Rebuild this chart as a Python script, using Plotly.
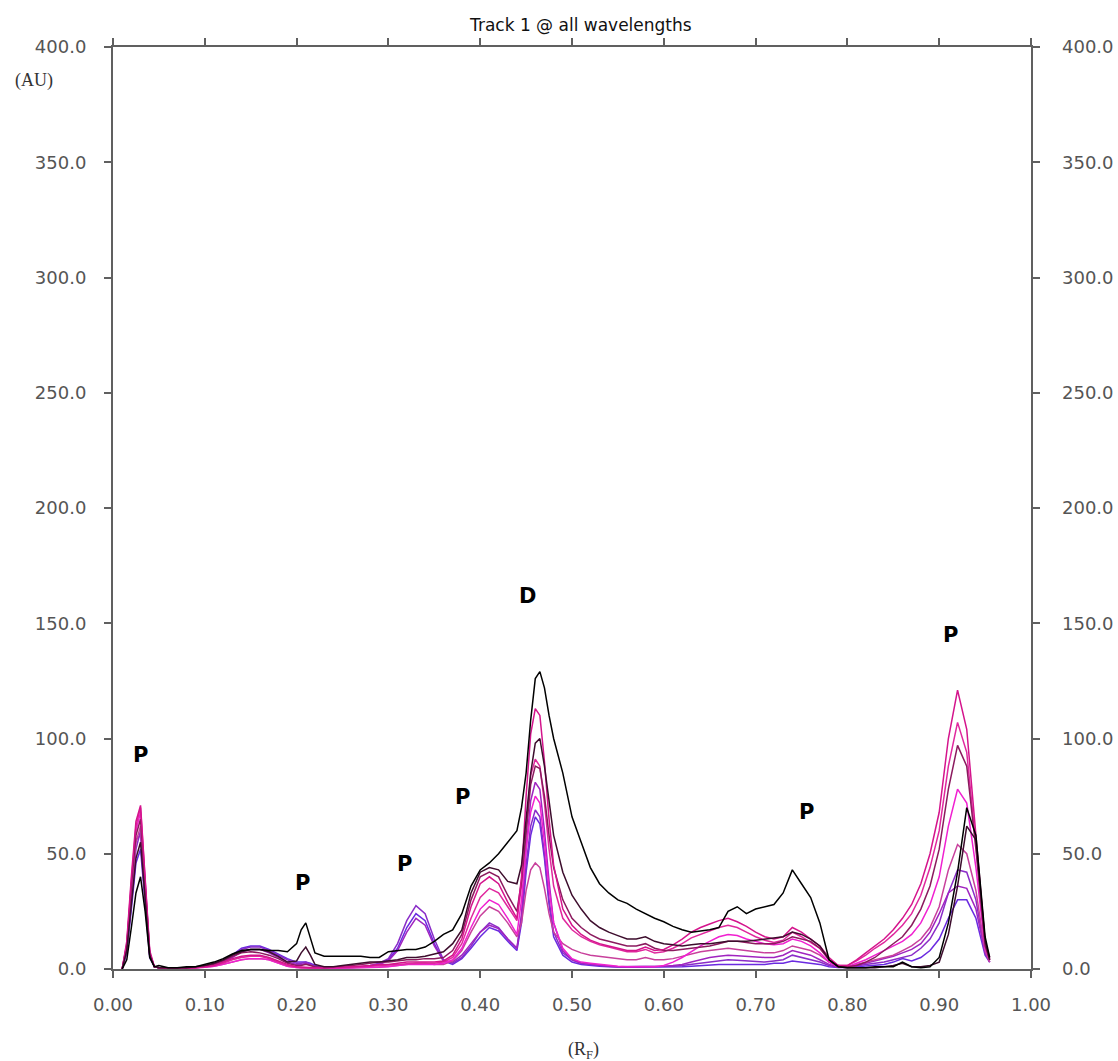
import plotly.graph_objects as go

# ---------------- data ----------------
RF = [0.010, 0.015, 0.020, 0.025, 0.030, 0.035, 0.040, 0.045, 0.050,
      0.06, 0.07, 0.08, 0.09, 0.10, 0.11, 0.12, 0.13, 0.14, 0.15, 0.16, 0.17, 0.18, 0.19, 0.20,
      0.205, 0.21, 0.215, 0.22,
      0.23, 0.24, 0.25, 0.26, 0.27, 0.28, 0.29, 0.30, 0.31, 0.32, 0.33, 0.34, 0.35, 0.36,
      0.37, 0.38, 0.39, 0.40, 0.41, 0.42, 0.43, 0.44,
      0.445, 0.45, 0.455, 0.46, 0.465, 0.47, 0.475, 0.48,
      0.49, 0.50, 0.51, 0.52, 0.53, 0.54, 0.55, 0.56, 0.57, 0.58, 0.59, 0.60,
      0.61, 0.62, 0.63, 0.64, 0.65, 0.66, 0.67, 0.68, 0.69, 0.70,
      0.71, 0.72, 0.73, 0.74, 0.75, 0.76, 0.77, 0.78, 0.79, 0.80,
      0.81, 0.82, 0.83, 0.84, 0.85, 0.86, 0.87, 0.88, 0.89, 0.90, 0.91, 0.92, 0.93, 0.94, 0.95,
      0.955]

S1 = ([0, 4, 18, 33, 40, 25, 5, 1, 1.5]
      + [0.5, 0.5, 1, 1, 2, 3, 4.5, 6.5, 8, 8.5, 8.5, 8, 8, 7.5, 11]
      + [17, 20, 14, 7]
      + [5.5, 5.5, 5.5, 5.5, 5.5, 5, 5, 7.5, 8, 8.5, 8.5, 9.5, 12, 15, 17, 24, 36, 43, 46, 50, 55, 60]
      + [70, 85, 108, 126, 129, 122, 110, 100]
      + [85, 66, 55, 44, 37, 33, 30, 28.5, 26, 24, 22, 20.5]
      + [18.5, 17, 16, 16.5, 17, 18, 25, 27, 24, 26, 27, 28, 33, 43, 37, 31, 20, 4, 1, 0.5]
      + [0.5, 0.5, 1, 1, 1, 3, 1, 0.5, 1, 5, 20, 42, 70, 58, 14]
      + [5])

S2 = ([0, 8, 28, 48, 55, 30, 6, 1, 0.5]
      + [0.5, 0.5, 0.5, 1, 1.5, 2.5, 4, 6, 7.5, 8.5, 8.5, 7.5, 5.5, 3, 3.5]
      + [7, 9.5, 6, 2]
      + [1, 1, 1.5, 2, 2.5, 3, 3, 3.5, 4, 5, 5, 5.5, 6.5, 7.5, 11, 17, 33, 42, 44, 43, 38, 37]
      + [45, 65, 85, 98, 100, 88, 72, 58]
      + [42, 32, 26, 21, 18, 16, 14.5, 13, 13, 14, 12, 11]
      + [10.5, 10, 10.5, 11, 11, 11.5, 12, 12, 12, 12.5, 13, 13.5, 14, 16, 15, 13, 10, 4, 1, 0.5]
      + [0.5, 0.5, 0.5, 1, 1.5, 2.5, 1, 1, 1.5, 3, 15, 36, 62, 56, 12]
      + [4])

S3 = ([0, 10, 36, 58, 65, 35, 7, 1, 0.5]
      + [0.3, 0.3, 0.5, 0.8, 1.2, 2, 3.5, 5.5, 7, 7.5, 7, 6, 4.5, 2.5, 1.5]
      + [1.5, 2, 1.5, 1]
      + [0.5, 0.8, 1, 1.5, 2, 2.5, 3, 3, 3.5, 4, 4, 4.5, 4.5, 5, 8, 15, 30, 40, 42, 40, 32, 25]
      + [38, 60, 80, 88, 87, 75, 58, 44]
      + [30, 22, 18, 15, 13, 12, 11, 10, 10, 11, 9, 8]
      + [8, 8.5, 9, 9.5, 10, 11, 12, 12, 11.5, 11, 11, 11, 12, 14, 13, 12, 9, 4, 1.5, 1]
      + [1.5, 3, 5, 8, 11, 14, 19, 26, 36, 52, 78, 97, 88, 52, 10]
      + [4])

S4 = ([0, 12, 40, 64, 71, 40, 8, 1, 0.5]
      + [0.3, 0.3, 0.3, 0.5, 1, 1.5, 3, 4.5, 5.5, 6, 6, 5, 3.5, 2, 1]
      + [0.8, 0.8, 0.6, 0.5]
      + [0.5, 0.5, 0.8, 1, 1.2, 1.5, 2, 2, 2.5, 3, 3, 3, 3, 3.5, 6, 13, 27, 37, 40, 37, 29, 22]
      + [40, 75, 102, 113, 110, 90, 65, 45]
      + [26, 19, 15, 12.5, 11, 10, 9, 8, 8, 9.5, 8, 8.5]
      + [10.5, 13, 16, 18, 19.5, 21, 22, 20.5, 18.5, 16, 14, 13, 14, 18, 16, 13, 10, 5, 1.5, 1.5]
      + [4, 7, 10, 13, 17, 22, 28, 37, 50, 68, 100, 121, 104, 58, 12]
      + [5])

S5 = ([0, 11, 38, 62, 70, 38, 7, 1, 0.5]
      + [0.3, 0.3, 0.3, 0.5, 1, 1.5, 2.5, 4, 5, 5.5, 5.5, 4.5, 3, 1.5, 1]
      + [0.5, 0.5, 0.5, 0.5]
      + [0.3, 0.4, 0.6, 0.8, 1, 1.2, 1.4, 1.5, 2, 2.3, 2.5, 2.5, 2.5, 3, 5, 11, 22, 31, 35, 33, 27, 21]
      + [36, 62, 84, 91, 88, 72, 52, 36]
      + [22, 17, 14, 12, 10.5, 9.5, 8.5, 7.5, 7.5, 8.5, 7, 7.5]
      + [9, 11, 13.5, 15, 16.5, 18, 19, 18, 16, 14, 12.5, 11.5, 12.5, 16, 14, 11.5, 9, 4, 1.5, 1.5]
      + [3.5, 6, 9, 11.5, 15, 19, 24, 32, 44, 60, 88, 107, 94, 54, 11]
      + [4])

S6 = ([0, 10, 36, 60, 68, 36, 7, 1, 0.5]
      + [0.2, 0.2, 0.3, 0.5, 0.8, 1.2, 2, 3, 4, 4.5, 4.5, 4, 2.5, 1.2, 0.6]
      + [0.5, 0.5, 0.4, 0.3]
      + [0.3, 0.3, 0.4, 0.5, 0.6, 0.8, 1, 1, 1.5, 2, 2, 2, 2, 2.5, 4, 9, 18, 26, 30, 28, 22, 15]
      + [30, 52, 68, 75, 72, 55, 35, 20]
      + [9, 4.5, 3, 2.5, 2, 1.5, 1.2, 1, 1, 1, 1, 1.5]
      + [3, 5, 7.5, 10, 12, 14, 15, 14.5, 13, 12, 11, 10.5, 11, 13, 12, 10, 7, 3, 1, 1]
      + [2.5, 4, 6, 8, 10, 12, 15, 20, 28, 40, 62, 78, 72, 44, 9]
      + [4])

S7 = ([0, 9, 32, 55, 62, 34, 6, 1, 0.5]
      + [0.2, 0.2, 0.3, 0.5, 0.8, 1.2, 2, 3, 4, 4.5, 4.5, 4, 2.5, 1.2, 0.6]
      + [0.4, 0.4, 0.3, 0.3]
      + [0.3, 0.3, 0.3, 0.4, 0.5, 0.6, 0.8, 1, 1.5, 2, 2.5, 2.5, 2, 2, 3.5, 8, 16, 23, 27, 25, 20, 14]
      + [20, 34, 43, 46, 44, 35, 24, 16]
      + [11, 8.5, 7, 6, 5.5, 5, 4.5, 4, 4, 5, 4, 4]
      + [4.5, 5.5, 6.5, 7.5, 8, 8.5, 9, 8.5, 8, 7.5, 7, 7, 8, 10, 9, 8, 6, 3, 1, 1]
      + [2, 3, 4, 5, 6, 8, 10, 13, 18, 27, 43, 54, 50, 34, 8]
      + [3])

S8 = ([0, 8, 30, 52, 60, 32, 6, 1, 0.5]
      + [0.3, 0.3, 0.5, 0.8, 1.2, 2, 3.5, 6, 8.5, 9.5, 9.5, 8, 6, 4, 2.5]
      + [2.5, 3, 2, 1]
      + [0.5, 0.5, 0.6, 0.8, 1, 1.5, 2.5, 4.5, 11, 21, 27.5, 24, 13, 4, 2.5, 5, 10, 16, 20, 18, 13, 9]
      + [22, 45, 62, 69, 66, 50, 30, 16]
      + [7, 4, 2.5, 2, 1.5, 1.2, 1, 1, 1, 1, 1, 1]
      + [1.2, 1.5, 2, 2.5, 3, 3.5, 4, 3.8, 3.5, 3.2, 3, 3.5, 4, 6, 5, 4, 3, 1.5, 0.8, 0.8]
      + [1.5, 2, 2.5, 3, 4, 5, 6, 9, 13, 20, 33, 43, 42, 30, 7]
      + [3])

S9 = ([0, 7, 26, 46, 52, 28, 5, 1, 0.5]
      + [0.3, 0.3, 0.5, 0.8, 1.2, 2, 3.5, 6, 9, 10, 10, 8.5, 6.5, 4.5, 3]
      + [3, 3, 2.5, 1.5]
      + [0.6, 0.5, 0.5, 0.6, 0.8, 1.2, 2, 4, 9, 18, 24, 21, 11, 3.5, 2, 4.5, 9, 14, 18, 16.5, 12, 8]
      + [20, 42, 58, 66, 63, 48, 28, 14]
      + [6, 3, 2, 1.5, 1.2, 1, 0.8, 0.8, 0.8, 0.8, 0.8, 0.8]
      + [1, 1, 1.2, 1.5, 1.5, 2, 2, 2, 2, 2, 2, 2.5, 2.5, 3.5, 3, 2.5, 2, 1, 0.6, 0.6]
      + [1, 1.2, 1.5, 2, 3, 4.5, 3.5, 5, 8, 13, 22, 30, 30, 22, 6]
      + [3])

S10 = ([0, 9, 34, 56, 58, 32, 6, 1, 0.5]
       + [0.3, 0.3, 0.4, 0.7, 1, 1.8, 3, 5, 7.5, 8.5, 8.5, 7, 5, 3, 2]
       + [2, 2.5, 1.8, 1]
       + [0.5, 0.5, 0.6, 0.7, 0.9, 1.2, 2, 3.5, 8, 16, 22, 19, 10, 3.5, 3, 6, 11, 16, 19, 17.5, 13, 9]
       + [24, 52, 73, 81, 78, 60, 38, 20]
       + [8, 4, 2.5, 2, 1.5, 1.2, 1, 1, 1, 1, 1, 1.2]
       + [1.5, 2, 3, 4, 5, 5.5, 6, 5.8, 5.5, 5, 5, 5, 6, 8, 7, 6, 4, 2, 1, 0.8]
       + [1.5, 2.5, 3.5, 4.5, 5.5, 7, 8.5, 11, 16, 24, 33, 36, 35, 26, 7]
       + [3])

SERIES = [S9, S8, S10, S7, S6, S5, S3, S4, S2, S1]
NAMES = ["track 9", "track 8", "track 10", "track 7", "track 6",
         "track 5", "track 3", "track 4", "track 2", "track 1"]

LABEL_TEXT = ["P", "P", "P", "P", "D", "P", "P"]
LABEL_X = [0.030, 0.206, 0.318, 0.381, 0.451, 0.755, 0.912]
LABEL_Y = [92.8, 37.3, 45.5, 74.6, 162.0, 68.0, 145.0]

Y_TICKS = [0, 50, 100, 150, 200, 250, 300, 350, 400]
X_TICKS = [0.0, 0.1, 0.2, 0.3, 0.4, 0.5, 0.6, 0.7, 0.8, 0.9, 1.0]

# ---------------- styles ----------------
COLORS = ["#6a2ae0", "#8a2cc8", "#a024c0", "#c8409c", "#f020d0",
          "#e0289e", "#8b1a5e", "#d4148c", "#3d0d2d", "#000000"]

for s in SERIES:
    assert len(s) == len(RF), (len(s), len(RF))

fig = go.Figure()
for s, name, col in zip(SERIES, NAMES, COLORS):
    fig.add_trace(go.Scatter(x=RF, y=s, mode="lines", name=name,
                             line=dict(color=col, width=1.5), showlegend=False))

# invisible helper so that the right-hand value axis is drawn
fig.add_trace(go.Scatter(x=[RF[0]], y=[Y_TICKS[0]], yaxis="y2", mode="markers",
                         marker=dict(opacity=0), hoverinfo="skip", showlegend=False))

for t, x, y in zip(LABEL_TEXT, LABEL_X, LABEL_Y):
    fig.add_annotation(x=x, y=y, text="<b>" + t + "</b>", showarrow=False,
                       xref="x", yref="y", xanchor="center", yanchor="middle",
                       font=dict(family="DejaVu Sans", size=21, color="#000000"))

axis_col = "#606060"
tick_font = dict(family="DejaVu Sans", size=18, color="#555555")

fig.update_layout(
    width=1118, height=1061,
    margin=dict(l=113, r=87, t=47, b=92, autoexpand=False),
    paper_bgcolor="white", plot_bgcolor="white",
    xaxis=dict(range=[0, 1], tickvals=X_TICKS, tickformat=".2f", automargin=False,
               showgrid=False, zeroline=False, showline=True, linecolor=axis_col,
               linewidth=2, mirror="ticks", ticks="outside", ticklen=7,
               tickcolor=axis_col, tickwidth=2, tickfont=tick_font,
               ticklabelstandoff=11),
    yaxis=dict(range=[0, 400], tickvals=Y_TICKS, tickformat=".1f", automargin=False,
               showgrid=False, zeroline=False, showline=True, linecolor=axis_col,
               linewidth=2, mirror="ticks", ticks="outside", ticklen=7,
               tickcolor=axis_col, tickwidth=2, tickfont=tick_font,
               ticklabelstandoff=14),
    yaxis2=dict(range=[0, 400], tickvals=Y_TICKS, tickformat=".1f", automargin=False,
                overlaying="y", side="right", anchor="x",
                showgrid=False, zeroline=False, showline=False, ticks="",
                tickfont=tick_font, ticklabelstandoff=30),
)

fig.add_annotation(text="Track 1 @ all wavelengths", xref="paper", yref="paper",
                   x=0.509, y=1.024, xanchor="center", yanchor="middle", showarrow=False,
                   font=dict(family="DejaVu Sans", size=17, color="#111111"))
fig.add_annotation(text="(AU)", xref="paper", yref="paper",
                   x=-0.109, y=0.964, xanchor="left", yanchor="middle", showarrow=False,
                   font=dict(family="Liberation Serif", size=18, color="#333333"))
fig.add_annotation(text="(R<sub>F</sub>)", xref="paper", yref="paper",
                   x=0.512, y=-0.088, xanchor="center", yanchor="middle", showarrow=False,
                   font=dict(family="Liberation Serif", size=18, color="#333333"))

fig.write_html("out.html")
